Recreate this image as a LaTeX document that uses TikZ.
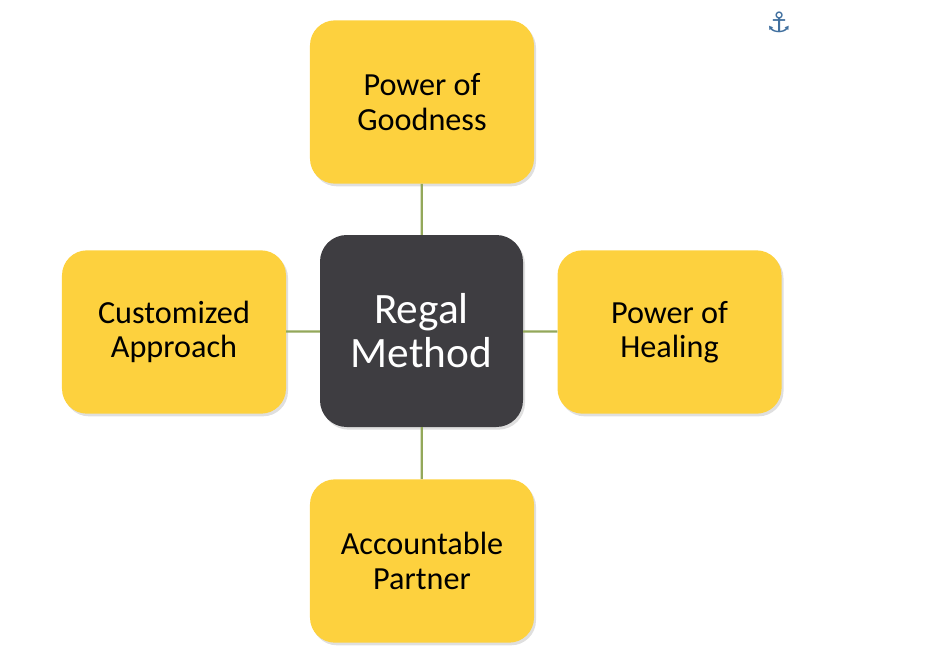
\documentclass[tikz,border=0pt]{standalone}
\usepackage{fontspec}
\setmainfont{Carlito}
\newfontfamily\symfont{DejaVu Sans}
\usetikzlibrary{shadows}
\definecolor{petal}{HTML}{FDD13E}
\definecolor{hub}{HTML}{3E3D41}
\definecolor{stem}{HTML}{93A85A}
\definecolor{anchorblue}{HTML}{41709F}

\begin{document}
\begin{tikzpicture}[x=0.03cm, y=-0.03cm,
  petal/.style={rectangle, rounded corners=0.75cm, fill=petal, draw=none,
    minimum width=6.72cm, minimum height=4.9cm, align=center,
    font=\fontsize{27.5}{29.5}\selectfont, text=black,
    drop shadow={shadow xshift=0.06cm, shadow yshift=-0.08cm, opacity=0.25}},
  hub/.style={rectangle, rounded corners=0.8cm, fill=hub, draw=none,
    minimum width=6.09cm, minimum height=5.76cm, align=center,
    font=\fontsize{37}{37.5}\selectfont, text=white,
    drop shadow={shadow xshift=0.06cm, shadow yshift=-0.08cm, opacity=0.25}},
  stem/.style={draw=stem, line width=0.07cm}]
  \useasboundingbox (0,0) rectangle (928,670);
  \node[hub] (regal) at (421.5, 331) {Regal\\Method};
  \node[petal] (goodness) at (422, 102) {Power of\\Goodness};
  \node[petal] (custom) at (174, 332) {Customized\\Approach};
  \node[petal] (healing) at (669.5, 332) {Power of\\Healing};
  \node[petal] (partner) at (422, 561) {Accountable\\Partner};
  \node[text=anchorblue, font=\symfont\fontsize{24}{24}\selectfont] (anchor) at (779, 22) {⚓};
  \draw[stem] (regal) -- (goodness);
  \draw[stem] (regal) -- (custom);
  \draw[stem] (regal) -- (healing);
  \draw[stem] (regal) -- (partner);
\end{tikzpicture}
\end{document}
